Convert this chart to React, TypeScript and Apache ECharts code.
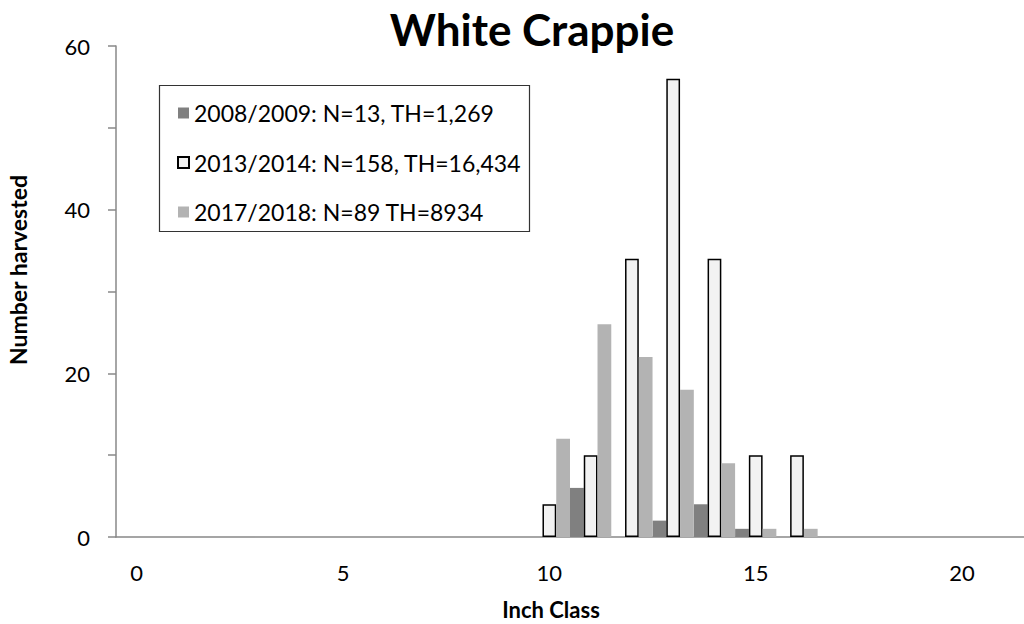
import React, { useEffect, useRef } from "react";
import * as echarts from "echarts";

const categories = ["0","1","2","3","4","5","6","7","8","9","10","11","12","13","14","15","16","17","18","19","20","21"];
const s2008 = [0,0,0,0,0,0,0,0,0,0,0,6,0,2,4,1,0,0,0,0,0,0];
const s2013 = [0,0,0,0,0,0,0,0,0,0,4,10,34,56,34,10,10,0,0,0,0,0];
const s2017 = [0,0,0,0,0,0,0,0,0,0,12,26,22,18,9,1,1,0,0,0,0,0];
const names = ["2008/2009: N=13, TH=1,269", "2013/2014: N=158, TH=16,434", "2017/2018: N=89 TH=8934"];

const FONT = "Lato, 'Open Sans', sans-serif";

export default function App() {
  const ref = useRef<HTMLDivElement>(null);
  useEffect(() => {
    const chart = echarts.init(ref.current!, null, { renderer: "svg" });
    const toData = (arr: number[]) => arr.map((v) => (v === 0 ? null : v));
    chart.setOption({
      animation: false,
      textStyle: { fontFamily: FONT },
      grid: { left: 116, top: 46, width: 915, height: 491 },
      legend: {
        orient: "vertical",
        left: 172,
        top: 96,
        itemWidth: 11,
        itemHeight: 11,
        itemGap: 25.5,
        icon: "rect",
        selectedMode: false,
        data: names,
        textStyle: { fontFamily: FONT, fontSize: 23, color: "#000", lineHeight: 24 },
      },
      xAxis: {
        type: "category",
        data: categories,
        axisLine: { lineStyle: { color: "#888", width: 1.5 } },
        axisTick: { interval: 0, length: 8, lineStyle: { color: "#888", width: 1.5 } },
        axisLabel: { interval: 4, margin: 24, fontSize: 22, color: "#000", fontFamily: FONT },
        splitLine: { show: false },
      },
      yAxis: {
        type: "value",
        min: 0,
        max: 60,
        interval: 10,
        axisLine: { show: true, lineStyle: { color: "#888", width: 1.5 } },
        axisTick: { show: true, length: 8, lineStyle: { color: "#888", width: 1.5 } },
        axisLabel: {
          margin: 26,
          fontSize: 22,
          color: "#000",
          fontFamily: FONT,
          formatter: (v: number) => (v % 20 === 0 ? String(v) : ""),
        },
        splitLine: { show: false },
      },
      series: [
        {
          name: names[0],
          type: "bar",
          data: toData(s2008),
          barGap: "0%",
          barCategoryGap: "0%",
          itemStyle: { color: "#808080" },
        },
        {
          name: names[1],
          type: "bar",
          data: toData(s2013),
          barGap: "0%",
          barCategoryGap: "0%",
          itemStyle: { color: "#f2f2f2", borderColor: "#000", borderWidth: 1.5 },
        },
        {
          name: names[2],
          type: "bar",
          data: toData(s2017),
          barGap: "0%",
          barCategoryGap: "0%",
          itemStyle: { color: "#b3b3b3" },
        },
      ],
      graphic: [
        {
          type: "rect",
          shape: { x: 159.5, y: 85.5, width: 370, height: 146 },
          style: { fill: "none", stroke: "#333", lineWidth: 1.2 },
          z: 10,
        },
        {
          type: "text",
          x: 532,
          y: 29,
          style: {
            text: "White Crappie",
            font: `bold 44px ${FONT}`,
            fill: "#000",
            textAlign: "center",
            textVerticalAlign: "middle",
          },
        },
        {
          type: "text",
          x: 551,
          y: 609,
          style: {
            text: "Inch Class",
            font: `bold 22px ${FONT}`,
            fill: "#000",
            textAlign: "center",
            textVerticalAlign: "middle",
          },
        },
        {
          type: "text",
          x: 18,
          y: 270,
          rotation: Math.PI / 2,
          style: {
            text: "Number harvested",
            font: `bold 23px ${FONT}`,
            fill: "#000",
            textAlign: "center",
            textVerticalAlign: "middle",
          },
        },
      ],
    });
    return () => chart.dispose();
  }, []);
  return (
    <div
      ref={ref}
      style={{ position: "fixed", left: 0, top: 0, width: 1024, height: 624, background: "#fff" }}
    />
  );
}
